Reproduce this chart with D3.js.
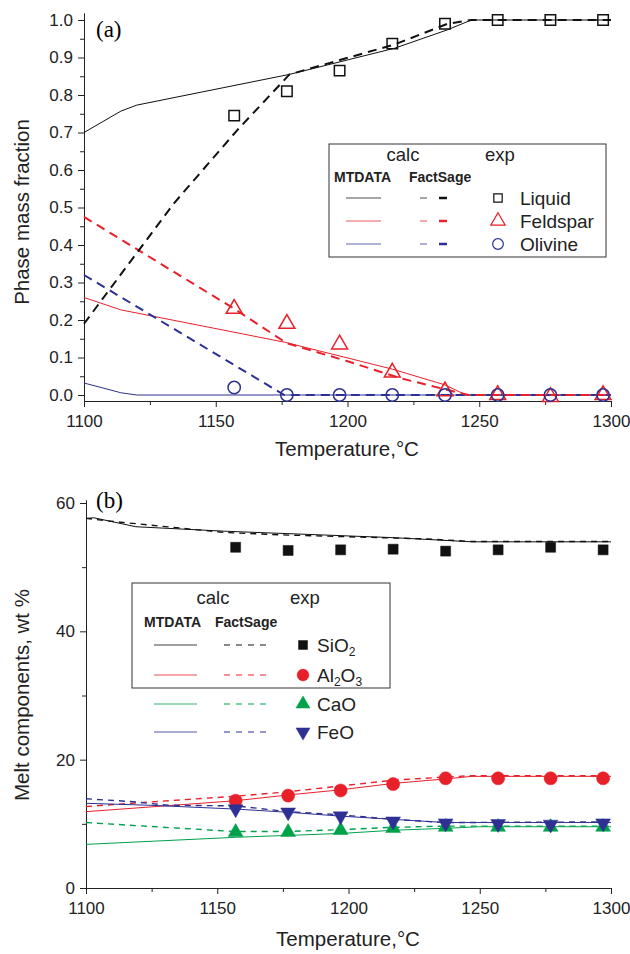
<!DOCTYPE html>
<html>
<head>
<meta charset="utf-8">
<script src="https://cdn.jsdelivr.net/npm/d3@7"></script>
<style>
  body { margin: 0; background: #fff; }
  svg { font-family: "Liberation Sans", Arial, sans-serif; }
  .axis text { font-size: 17px; fill: #222; }
  .axis path, .axis line { stroke: #222; }
</style>
</head>
<body>
<div id="chart-area"></div>
<script>
// ---- data: panel (a) phase mass fraction ----
let tExp = [1157, 1177, 1197, 1217, 1237, 1257, 1277, 1297];
let liquidExp = [0.745, 0.81, 0.865, 0.937, 0.99, 1.0, 1.0, 1.0];
let feldsparExp = [0.23, 0.19, 0.135, 0.06, 0.01, 0.0, -0.005, 0.0];
let olivineExp = [0.02, 0.0, 0.0, 0.0, 0.0, 0.0, 0.0, 0.0];

let liquidMt = [[1100, 0.70], [1114, 0.757], [1120, 0.773], [1178, 0.855], [1218, 0.925], [1238, 0.974], [1247, 1.0], [1300, 1.0]];
let liquidFs = [[1100, 0.19], [1134, 0.51], [1158, 0.705], [1178, 0.855], [1218, 0.935], [1238, 0.99], [1247, 1.0], [1300, 1.0]];
let feldsparMt = [[1100, 0.26], [1114, 0.227], [1176, 0.141], [1217, 0.069], [1237, 0.027], [1245, 0.0], [1300, 0.0]];
let feldsparFs = [[1100, 0.475], [1157, 0.23], [1177, 0.138], [1200, 0.09], [1220, 0.045], [1240, 0.01], [1246, 0.0], [1300, 0.0]];
let olivineMt = [[1100, 0.032], [1114, 0.006], [1120, 0.0], [1300, 0.0]];
let olivineFs = [[1100, 0.32], [1176, 0.0], [1300, 0.0]];

// ---- data: panel (b) melt components ----
let sio2Exp = [53.1, 52.6, 52.7, 52.8, 52.5, 52.7, 53.1, 52.7];
let al2o3Exp = [13.6, 14.4, 15.2, 16.2, 17.1, 17.1, 17.1, 17.1];
let caoExp = [8.7, 8.7, 9.0, 9.3, 9.5, 9.5, 9.5, 9.5];
let feoExp = [12.3, 11.8, 11.2, 10.4, 10.1, 10.0, 9.9, 10.1];

let sio2Mt = [[1100, 57.6], [1103, 57.7], [1119, 56.3], [1153, 55.6], [1217, 54.6], [1247, 53.95], [1300, 53.95]];
let sio2Fs = [[1100, 57.6], [1111, 57.1], [1153, 55.4], [1177, 55.0], [1230, 54.4], [1247, 54.0], [1300, 54.0]];
let al2o3Mt = [[1100, 11.9], [1157, 13.6], [1177, 14.5], [1197, 15.3], [1217, 16.3], [1237, 17.0], [1247, 17.4], [1300, 17.4]];
let al2o3Fs = [[1100, 12.7], [1124, 13.4], [1157, 14.3], [1177, 15.0], [1197, 15.9], [1217, 16.8], [1237, 17.3], [1247, 17.5], [1300, 17.5]];
let caoMt = [[1100, 6.8], [1157, 7.9], [1197, 8.5], [1217, 9.0], [1237, 9.3], [1250, 9.55], [1300, 9.55]];
let caoFs = [[1100, 10.2], [1124, 9.6], [1157, 8.8], [1177, 8.8], [1197, 9.1], [1217, 9.45], [1237, 9.65], [1300, 9.65]];
let feoMt = [[1100, 13.2], [1124, 12.9], [1157, 12.3], [1177, 11.8], [1197, 11.2], [1217, 10.7], [1237, 10.2], [1300, 10.2]];
let feoFs = [[1100, 13.9], [1118, 13.45], [1131, 12.9], [1157, 12.8], [1177, 11.9], [1197, 11.4], [1217, 10.7], [1237, 10.2], [1300, 10.3]];

let xTicks = [1100, 1150, 1200, 1250, 1300];
let xMinor = [1125, 1175, 1225, 1275];
let yTicksA = [0, 0.1, 0.2, 0.3, 0.4, 0.5, 0.6, 0.7, 0.8, 0.9, 1.0];
let yMinorA = [0.05, 0.15, 0.25, 0.35, 0.45, 0.55, 0.65, 0.75, 0.85, 0.95];
let yTicksB = [0, 20, 40, 60];
let yMinorB = [10, 30, 50];

let red = "#e8202a", blue = "#2e3192", green = "#00a14b", black = "#111";

let svg = d3.select("#chart-area")
    .append("svg")
    .attr("width", 630)
    .attr("height", 954);

// axes of one panel; yTop = pixel where the y axis line ends
function drawAxes(x, y, axisY, yTop, yMajor, yMinor, yFmt) {
  let yAx = y.copy().domain([y.invert(axisY), y.invert(yTop)]).range([axisY, yTop]);

  svg.append("g").attr("class", "axis")
      .attr("transform", "translate(0," + axisY + ")")
      .call(d3.axisBottom(x).tickValues(xTicks).tickSize(6).tickSizeOuter(0).tickPadding(8)
        .tickFormat(d3.format("d")));
  svg.append("g").attr("class", "axis")
      .attr("transform", "translate(0," + axisY + ")")
      .call(d3.axisBottom(x).tickValues(xMinor).tickSize(4).tickSizeOuter(0).tickFormat(""));

  svg.append("g").attr("class", "axis")
      .attr("transform", "translate(" + x.range()[0] + ",0)")
      .call(d3.axisLeft(yAx).tickValues(yMajor).tickSize(6).tickSizeOuter(0).tickPadding(5)
        .tickFormat(yFmt));
  svg.append("g").attr("class", "axis")
      .attr("transform", "translate(" + x.range()[0] + ",0)")
      .call(d3.axisLeft(yAx).tickValues(yMinor).tickSize(4).tickSizeOuter(0).tickFormat(""));
}

function drawLine(x, y, pts, color, width, dash) {
  let line = d3.line().x(function(d){return x(d[0]);}).y(function(d){return y(d[1]);});
  svg.append("path")
      .datum(pts)
      .attr("d", line)
      .attr("fill", "none")
      .attr("stroke", color)
      .attr("stroke-width", width)
      .attr("stroke-dasharray", dash || null);
}

function drawMarks(x, y, vals, type, size, color, filled, rot) {
  svg.append("g").selectAll("path")
      .data(vals)
      .enter()
      .append("path")
      .attr("d", d3.symbol().type(type).size(size))
      .attr("transform", function(d, i){
        return "translate(" + x(tExp[i]) + "," + y(d) + ")" + (rot ? " rotate(180)" : "");
      })
      .attr("fill", filled ? color : "none")
      .attr("stroke", color)
      .attr("stroke-width", filled ? 0.5 : 1.5);
}

function axisTitle(x, y, rot, txt) {
  svg.append("text")
      .attr("transform", "translate(" + x + "," + y + ")" + (rot ? " rotate(-90)" : ""))
      .attr("text-anchor", "middle")
      .attr("font-size", "20.5px")
      .attr("fill", "#222")
      .text(txt);
}

// ---------------- panel (a) ----------------
let xA = d3.scaleLinear().domain([1100, 1300]).range([84, 611]);
let yA = d3.scaleLinear().domain([0, 1]).range([395, 20]);

drawAxes(xA, yA, 401, 13, yTicksA, yMinorA, d3.format(".1f"));

drawLine(xA, yA, liquidMt, black, 1);
drawLine(xA, yA, feldsparMt, red, 1);
drawLine(xA, yA, olivineMt, blue, 1);
drawLine(xA, yA, olivineFs, blue, 2, "9,6");
drawLine(xA, yA, feldsparFs, red, 2, "9,6");
drawLine(xA, yA, liquidFs, black, 2, "9,6");

drawMarks(xA, yA, feldsparExp, d3.symbolTriangle, 110, red, false);
drawMarks(xA, yA, olivineExp, d3.symbolCircle, 120, blue, false);
drawMarks(xA, yA, liquidExp, d3.symbolSquare, 110, black, false);

svg.append("text")
    .attr("x", 96).attr("y", 37)
    .attr("font-family", "Liberation Serif, serif")
    .attr("font-size", "23px")
    .text("(a)");

axisTitle(29, 212, true, "Phase mass fraction");
axisTitle(347, 456, false, "Temperature,°C");

// legend (a)
let legA = svg.append("g");
legA.append("rect")
    .attr("x", 329).attr("y", 144).attr("width", 277).attr("height", 113)
    .attr("fill", "#fff").attr("stroke", "#333");
legA.append("text").attr("x", 403).attr("y", 161).attr("text-anchor", "middle")
    .attr("font-size", "18.5px").attr("fill", "#222").text("calc");
legA.append("text").attr("x", 500).attr("y", 161).attr("text-anchor", "middle")
    .attr("font-size", "18.5px").attr("fill", "#222").text("exp");
legA.append("text").attr("x", 334).attr("y", 182)
    .attr("font-size", "14px").attr("font-weight", "bold").attr("fill", "#222").text("MTDATA");
legA.append("text").attr("x", 409).attr("y", 182)
    .attr("font-size", "14px").attr("font-weight", "bold").attr("fill", "#222").text("FactSage");

let legRowsA = [
  {name: "Liquid", color: black, type: d3.symbolSquare, size: 70, y: 198},
  {name: "Feldspar", color: red, type: d3.symbolTriangle, size: 90, y: 221},
  {name: "Olivine", color: blue, type: d3.symbolCircle, size: 90, y: 244}
];
legRowsA.forEach(function(r){
  legA.append("line").attr("x1", 346).attr("x2", 381).attr("y1", r.y).attr("y2", r.y)
      .attr("stroke", r.color).attr("stroke-width", 1).attr("opacity", 0.75);
  legA.append("line").attr("x1", 420).attr("x2", 427).attr("y1", r.y).attr("y2", r.y)
      .attr("stroke", r.color).attr("stroke-width", 1.5).attr("opacity", 0.5);
  legA.append("line").attr("x1", 439).attr("x2", 447).attr("y1", r.y).attr("y2", r.y)
      .attr("stroke", r.color).attr("stroke-width", 2.5);
  legA.append("path").attr("d", d3.symbol().type(r.type).size(r.size)())
      .attr("transform", "translate(498," + r.y + ")")
      .attr("fill", "none").attr("stroke", r.color).attr("stroke-width", 1.2);
  legA.append("text").attr("x", 520).attr("y", r.y + 7)
      .attr("font-size", "19px").attr("fill", "#222").text(r.name);
});

// ---------------- panel (b) ----------------
let xB = d3.scaleLinear().domain([1100, 1300]).range([86, 611]);
let yB = d3.scaleLinear().domain([0, 60]).range([888, 503]);

drawAxes(xB, yB, 888, 500, yTicksB, yMinorB, d3.format("d"));

drawLine(xB, yB, sio2Mt, black, 1);
drawLine(xB, yB, sio2Fs, black, 1.4, "6,5");
drawLine(xB, yB, al2o3Mt, red, 1);
drawLine(xB, yB, al2o3Fs, red, 1.4, "6,5");
drawLine(xB, yB, caoMt, green, 1);
drawLine(xB, yB, caoFs, green, 1.4, "6,5");
drawLine(xB, yB, feoMt, blue, 1);
drawLine(xB, yB, feoFs, blue, 1.4, "6,5");

drawMarks(xB, yB, sio2Exp, d3.symbolSquare, 100, black, true);
drawMarks(xB, yB, al2o3Exp, d3.symbolCircle, 135, red, true);
drawMarks(xB, yB, caoExp, d3.symbolTriangle, 95, green, true);
drawMarks(xB, yB, feoExp, d3.symbolTriangle, 95, blue, true, true);

svg.append("text")
    .attr("x", 96).attr("y", 508)
    .attr("font-family", "Liberation Serif, serif")
    .attr("font-size", "23px")
    .text("(b)");

axisTitle(29, 695, true, "Melt components, wt %");
axisTitle(348, 946, false, "Temperature,°C");

// legend (b)
let legB = svg.append("g");
legB.append("rect")
    .attr("x", 132).attr("y", 583).attr("width", 258).attr("height", 105)
    .attr("fill", "#fff").attr("stroke", "#333");
legB.append("text").attr("x", 213).attr("y", 604).attr("text-anchor", "middle")
    .attr("font-size", "18.5px").attr("fill", "#222").text("calc");
legB.append("text").attr("x", 305).attr("y", 604).attr("text-anchor", "middle")
    .attr("font-size", "18.5px").attr("fill", "#222").text("exp");
legB.append("text").attr("x", 144).attr("y", 627)
    .attr("font-size", "14px").attr("font-weight", "bold").attr("fill", "#222").text("MTDATA");
legB.append("text").attr("x", 215).attr("y", 627)
    .attr("font-size", "14px").attr("font-weight", "bold").attr("fill", "#222").text("FactSage");

let legRowsB = [
  {name: ["SiO", "2", ""], color: black, type: d3.symbolSquare, size: 80, y: 645, rot: false},
  {name: ["Al", "2", "O", "3"], color: red, type: d3.symbolCircle, size: 110, y: 675, rot: false},
  {name: ["CaO"], color: green, type: d3.symbolTriangle, size: 85, y: 704, rot: false},
  {name: ["FeO"], color: blue, type: d3.symbolTriangle, size: 85, y: 732, rot: true}
];
legRowsB.forEach(function(r){
  legB.append("line").attr("x1", 154).attr("x2", 197).attr("y1", r.y).attr("y2", r.y)
      .attr("stroke", r.color).attr("stroke-width", 1).attr("opacity", 0.8);
  legB.append("line").attr("x1", 224).attr("x2", 266).attr("y1", r.y).attr("y2", r.y)
      .attr("stroke", r.color).attr("stroke-width", 1.2).attr("stroke-dasharray", "6,6");
  legB.append("path").attr("d", d3.symbol().type(r.type).size(r.size)())
      .attr("transform", "translate(303," + r.y + ")" + (r.rot ? " rotate(180)" : ""))
      .attr("fill", r.color).attr("stroke", r.color).attr("stroke-width", 0.5);
  let t = legB.append("text").attr("x", 317).attr("y", r.y + 7)
      .attr("font-size", "19px").attr("fill", "#222");
  r.name.forEach(function(s, i){
    if (s === "") return;
    let ts = t.append("tspan").text(s);
    if (i % 2 === 1) ts.attr("font-size", "12px").attr("dy", 4);
    else if (i > 0) ts.attr("dy", -4);
  });
});
</script>
</body>
</html>
